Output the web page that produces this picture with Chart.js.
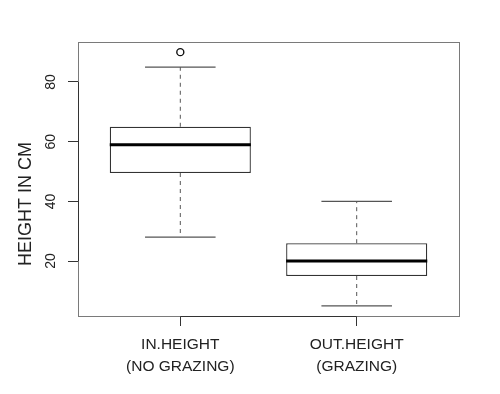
<!DOCTYPE html>
<html>
<head>
<meta charset="utf-8">
<script src="https://cdn.jsdelivr.net/npm/chart.js@4/dist/chart.umd.min.js"></script>
<style>
  html, body { margin: 0; padding: 0; background: #ffffff; }
  #wrap { width: 500px; height: 394px; }
</style>
</head>
<body>
<div id="wrap"><canvas id="c" width="500" height="394"></canvas></div>
<script>
// ---- data ----
const categories = [['IN.HEIGHT', '(NO GRAZING)'], ['OUT.HEIGHT', '(GRAZING)']];
const lowerWhisker = [28, 5];
const q1 = [49.5, 15];
const median = [59, 20];
const q3 = [65, 26];
const upperWhisker = [85, 40];
const outliers = [[90], []];
const yTicks = [20, 40, 60, 80];
const yTitle = 'HEIGHT IN CM';

// ---- layout constants (not data) ----
const boxHalf = 0.4;   // half box width in category units (R default 0.8 width)
const capHalf = 0.2;   // half whisker-cap width
const FONT = '"Liberation Sans", Arial, sans-serif';

const pos = categories.map((c, i) => i + 1);

function segments(pairs) {
  const out = [];
  pairs.forEach(p => { out.push(p[0], p[1], { x: p[0].x, y: null }); });
  return out;
}

const boxData = pos.map((x, i) => ({ x, y: [q1[i], q3[i]] }));
const medianData = segments(pos.map((x, i) => [{ x: x - boxHalf, y: median[i] }, { x: x + boxHalf, y: median[i] }]));
const whiskerData = segments(pos.flatMap((x, i) => [
  [{ x, y: q3[i] }, { x, y: upperWhisker[i] }],
  [{ x, y: q1[i] }, { x, y: lowerWhisker[i] }]
]));
const capData = segments(pos.flatMap((x, i) => [
  [{ x: x - capHalf, y: upperWhisker[i] }, { x: x + capHalf, y: upperWhisker[i] }],
  [{ x: x - capHalf, y: lowerWhisker[i] }, { x: x + capHalf, y: lowerWhisker[i] }]
]));
const outlierData = pos.flatMap((x, i) => outliers[i].map(v => ({ x, y: v })));

const allVals = [].concat(lowerWhisker, upperWhisker, ...outliers);
const dMin = Math.min(...allVals), dMax = Math.max(...allVals);
const ext = (dMax - dMin) * 0.04;
const xExt = pos.length * 0.04;

const framePlugin = {
  id: 'frame',
  afterDatasetsDraw(chart) {
    const { ctx, chartArea: a, scales } = chart;
    ctx.save();
    // plot frame
    ctx.strokeStyle = '#7a7a7a';
    ctx.lineWidth = 1;
    ctx.strokeRect(Math.round(a.left) + 0.5, Math.round(a.top) + 0.5, Math.round(a.right - a.left), Math.round(a.bottom - a.top));
    // axis lines from first to last tick (R style)
    ctx.strokeStyle = '#333';
    const xs = scales.x, ys = scales.y;
    ctx.beginPath();
    const yb = Math.round(a.bottom) + 0.5;
    ctx.moveTo(xs.getPixelForValue(pos[0]), yb);
    ctx.lineTo(xs.getPixelForValue(pos[pos.length - 1]), yb);
    const xl = Math.round(a.left) + 0.5;
    ctx.moveTo(xl, ys.getPixelForValue(yTicks[0]));
    ctx.lineTo(xl, ys.getPixelForValue(yTicks[yTicks.length - 1]));
    ctx.stroke();
    // y tick labels, rotated (R las=0)
    ctx.fillStyle = '#222';
    ctx.font = '14px ' + FONT;
    ctx.textAlign = 'center';
    ctx.textBaseline = 'middle';
    yTicks.forEach(v => {
      ctx.save();
      ctx.translate(a.left - 27, ys.getPixelForValue(v));
      ctx.rotate(-Math.PI / 2);
      ctx.fillText(String(v), 0, 0);
      ctx.restore();
    });
    // y title
    ctx.font = '18px ' + FONT;
    ctx.save();
    ctx.translate(26, 204);
    ctx.rotate(-Math.PI / 2);
    ctx.fillText(yTitle, 0, 0);
    ctx.restore();
    ctx.restore();
  }
};

new Chart(document.getElementById('c'), {
  data: {
    datasets: [
      {
        type: 'line', label: 'median', data: medianData, order: 0,
        borderColor: '#000', borderWidth: 3, pointRadius: 0, spanGaps: false, borderCapStyle: 'butt'
      },
      {
        type: 'bar', label: 'box', data: boxData, order: 1,
        backgroundColor: '#ffffff', borderColor: '#333', borderWidth: 1.3, borderSkipped: false,
        barPercentage: boxHalf * 2, categoryPercentage: 1
      },
      {
        type: 'line', label: 'whisker', data: whiskerData, order: 2,
        borderColor: '#555', borderWidth: 1, borderDash: [4, 4], pointRadius: 0, spanGaps: false
      },
      {
        type: 'line', label: 'cap', data: capData, order: 2,
        borderColor: '#555', borderWidth: 1.2, pointRadius: 0, spanGaps: false, borderCapStyle: 'butt'
      },
      {
        type: 'scatter', label: 'outlier', data: outlierData, order: 0,
        pointRadius: 3.5, pointBorderWidth: 1.4, pointBorderColor: '#111', pointBackgroundColor: '#fff'
      }
    ]
  },
  options: {
    responsive: false,
    devicePixelRatio: 1,
    animation: false,
    events: [],
    layout: { padding: { top: 42, right: 41, left: 0, bottom: 0 } },
    plugins: { legend: { display: false }, tooltip: { enabled: false }, title: { display: false } },
    scales: {
      x: {
        type: 'linear',
        offset: false,
        min: 0.5 - xExt, max: pos.length + 0.5 + xExt,
        afterBuildTicks: s => { s.ticks = pos.map(v => ({ value: v })); },
        afterFit: s => { s.height = 78; },
        border: { display: false },
        grid: { offset: false, drawOnChartArea: false, drawTicks: true, tickLength: 10, color: '#333', lineWidth: 1 },
        ticks: {
          autoSkip: false, maxRotation: 0, minRotation: 0, padding: 8,
          color: '#222', font: { family: FONT, size: 15.5, lineHeight: 1.42 },
          callback: v => categories[v - 1] || ''
        }
      },
      y: {
        type: 'linear',
        min: dMin - ext, max: dMax + ext,
        afterBuildTicks: s => { s.ticks = yTicks.map(v => ({ value: v })); },
        afterFit: s => { s.width = 78; },
        border: { display: false },
        grid: { drawOnChartArea: false, drawTicks: true, tickLength: 10, color: '#333', lineWidth: 1 },
        ticks: { display: false }
      }
    }
  },
  plugins: [framePlugin]
});
</script>
</body>
</html>
